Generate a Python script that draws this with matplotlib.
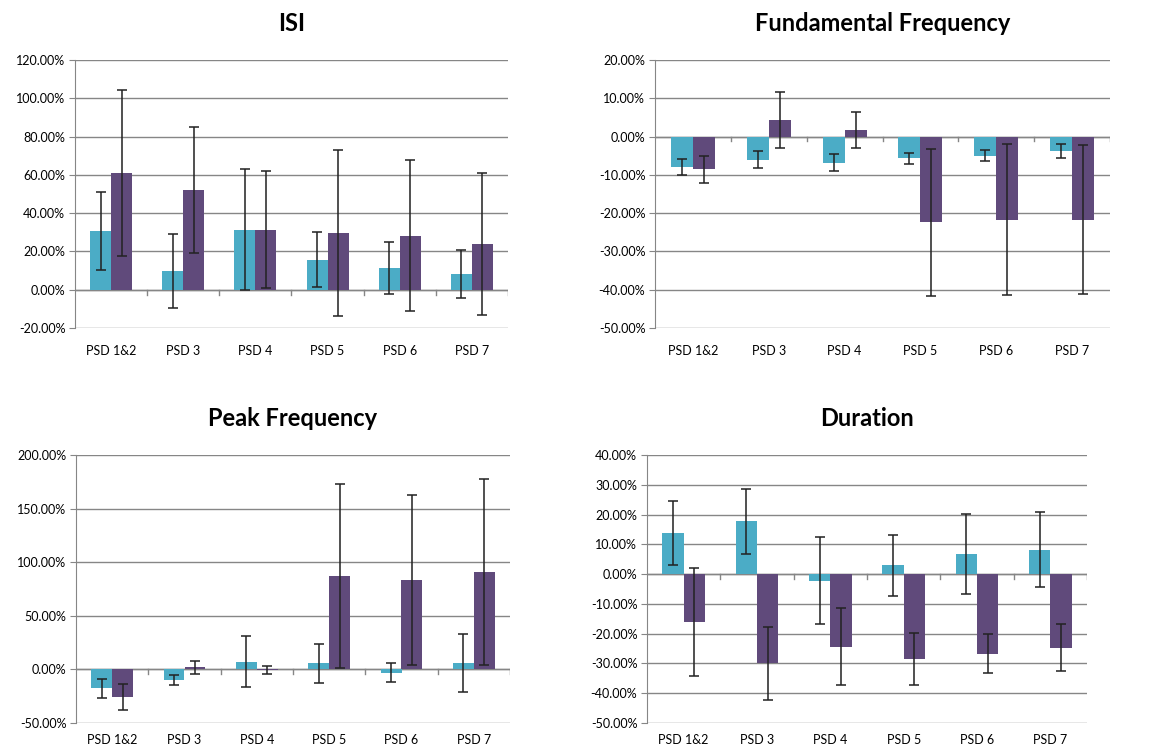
import numpy as np
import matplotlib.pyplot as plt
from matplotlib.ticker import FuncFormatter

plt.rcParams['font.family'] = ['Lato', 'DejaVu Sans']

categorias = ['PSD 1&2', 'PSD 3', 'PSD 4', 'PSD 5', 'PSD 6', 'PSD 7']

# ISI
isi_a = [30.6, 9.9, 31.3, 15.7, 11.3, 8.2]
isi_a_err = [20.3, 19.3, 31.6, 14.2, 13.4, 12.3]
isi_b = [61.0, 52.2, 31.3, 29.7, 28.3, 24.0]
isi_b_err = [43.3, 33.0, 30.6, 43.3, 39.5, 37.2]

# Fundamental Frequency
ff_a = [-7.9, -6.0, -6.8, -5.7, -5.0, -3.7]
ff_a_err = [2.1, 2.2, 2.2, 1.5, 1.5, 1.8]
ff_b = [-8.6, 4.3, 1.7, -22.4, -21.7, -21.7]
ff_b_err = [3.4, 7.3, 4.7, 19.2, 19.7, 19.5]

# Peak Frequency
pf_a = [-17.7, -9.7, 7.2, 5.9, -3.1, 5.9]
pf_a_err = [9.2, 4.7, 23.8, 18.2, 8.7, 27.0]
pf_b = [-25.8, 1.9, -0.6, 87.2, 83.1, 91.2]
pf_b_err = [12.0, 6.0, 3.4, 86.0, 79.4, 86.7]

# Duration
dur_a = [13.8, 17.7, -2.3, 2.9, 6.7, 8.2]
dur_a_err = [10.6, 11.0, 14.6, 10.1, 13.4, 12.5]
dur_b = [-16.1, -30.0, -24.4, -28.6, -26.7, -24.8]
dur_b_err = [18.2, 12.2, 13.0, 8.8, 6.5, 7.9]

cor_a = '#4BACC6'
cor_b = '#604A7B'
cinza = '#868686'


def painel(ax, titulo, a, a_err, b, b_err, ymin, ymax, passo, pad_x=12):
    x = np.arange(len(categorias))
    w = 0.29
    ax.bar(x - w / 2, a, w, color=cor_a, zorder=2)
    ax.bar(x + w / 2, b, w, color=cor_b, zorder=2)
    ax.errorbar(x - w / 2, a, yerr=a_err, fmt='none', ecolor='#222222',
                elinewidth=1.3, capsize=3.5, capthick=1.3, alpha=0.85, zorder=3)
    ax.errorbar(x + w / 2, b, yerr=b_err, fmt='none', ecolor='#222222',
                elinewidth=1.3, capsize=3.5, capthick=1.3, alpha=0.85, zorder=3)

    ax.set_xlim(-0.5, len(categorias) - 0.5)
    ax.set_ylim(ymin, ymax)
    ax.set_yticks(np.arange(ymin, ymax + passo / 2, passo))
    ax.yaxis.set_major_formatter(FuncFormatter(lambda v, p: '%.2f%%' % v))
    ax.grid(axis='y', color=cinza, linewidth=1.0, zorder=0)
    ax.set_axisbelow(True)

    for s in ['top', 'right', 'bottom']:
        ax.spines[s].set_visible(False)
    ax.spines['left'].set_color(cinza)
    ax.tick_params(axis='y', length=4, color=cinza, labelsize=9, pad=3)
    ax.set_xticks(x)
    ax.set_xticklabels(categorias, fontsize=9)
    ax.tick_params(axis='x', length=0, pad=pad_x)

    # eixo horizontal em zero com marcas entre categorias
    ax.axhline(0, color=cinza, linewidth=1.0, zorder=1)
    alt = (ymax - ymin) * 0.018
    for xb in np.arange(0.5, len(categorias), 1.0):
        ax.plot([xb, xb], [0, -alt], color=cinza, linewidth=1.0, zorder=1)

    ax.set_title(titulo, fontsize=17, fontweight='bold', pad=21)


fig = plt.figure(figsize=(11.51, 7.5), dpi=100)

ax1 = fig.add_axes([75 / 1151, 1 - 328 / 750, 433 / 1151, 268 / 750])
ax2 = fig.add_axes([655 / 1151, 1 - 328 / 750, 455 / 1151, 268 / 750])
ax3 = fig.add_axes([76 / 1151, 1 - 723 / 750, 434 / 1151, 268 / 750])
ax4 = fig.add_axes([647 / 1151, 1 - 723 / 750, 440 / 1151, 268 / 750])

painel(ax1, 'ISI', isi_a, isi_a_err, isi_b, isi_b_err, -20, 120, 20)
painel(ax2, 'Fundamental Frequency', ff_a, ff_a_err, ff_b, ff_b_err, -50, 20, 10)
painel(ax3, 'Peak Frequency', pf_a, pf_a_err, pf_b, pf_b_err, -50, 200, 50, pad_x=8)
painel(ax4, 'Duration', dur_a, dur_a_err, dur_b, dur_b_err, -50, 40, 10, pad_x=8)

fig.savefig('out.png', dpi=100)
